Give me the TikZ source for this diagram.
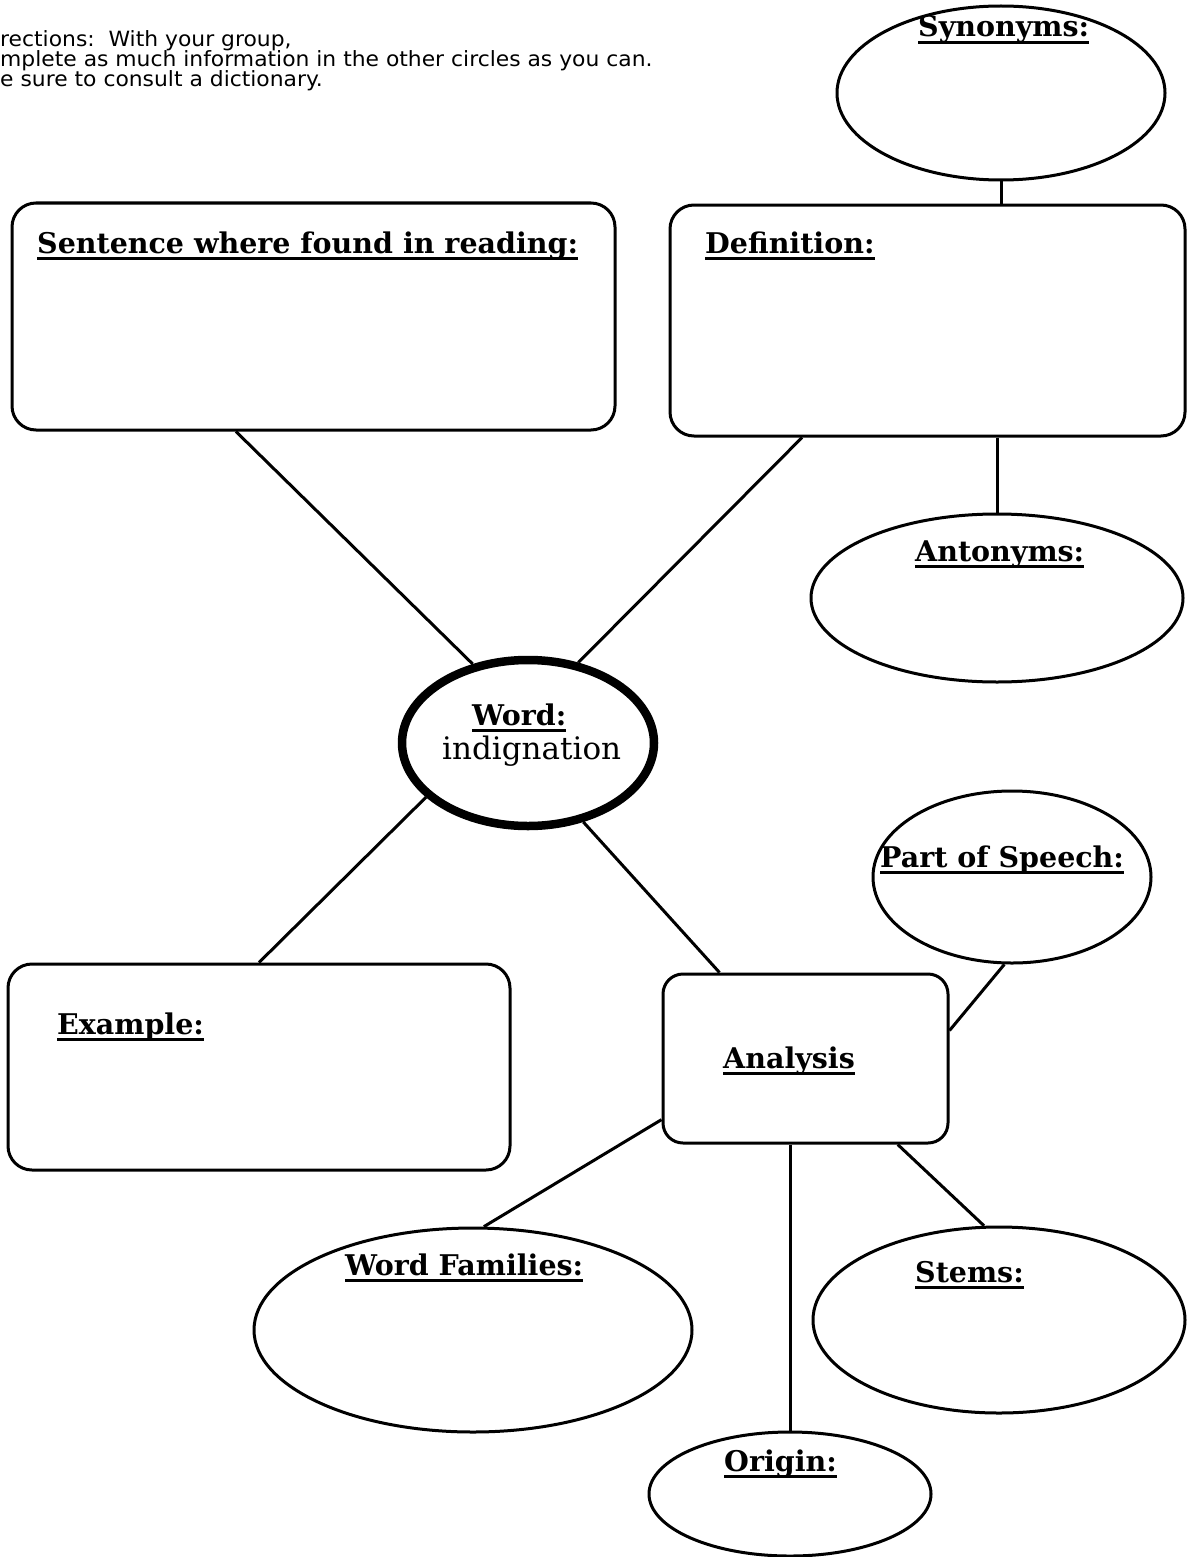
\documentclass[tikz,border=0pt]{standalone}
\usepackage{fontspec}
\usetikzlibrary{shapes.geometric}
\newfontfamily\dirfont[FakeStretch=1.04]{DejaVu Sans}
\newfontfamily\lblserif{DejaVu Serif}
\newcommand\lblfont{\lblserif\bfseries\fontsize{28.5}{32}\selectfont}
\newcommand\wordfont{\lblserif\fontsize{31}{35}\selectfont}
% underlined heading text
\newcommand\ulbl[1]{\setbox0=\hbox{#1}\rlap{\rule[-7pt]{\wd0}{2.8pt}}\box0}

\tikzset{
  panel/.style={draw, line width=3pt, rounded corners=24pt, inner sep=0pt},
  oval/.style={draw, ellipse, line width=3pt, inner sep=0pt},
  heading/.style={anchor=base west, inner sep=0pt, font=\lblfont},
  note/.style={anchor=base west, inner sep=0pt, font=\dirfont\fontsize{21}{23}\selectfont},
  link/.style={line width=3pt},
}

\begin{document}
\begin{tikzpicture}[x=1pt, y=-1pt]
  \useasboundingbox (0,0) rectangle (1186,1557);
  \fill[white] (0,0) rectangle (1186,1557);

  % instructions
  \node[note] (dir1) at (0,47) {rections:\ \ With your group,};
  \node[note] (dir2) at (0,67) {mplete as much information in the other circles as you can.};
  \node[note] (dir3) at (0,87) {e sure to consult a dictionary.};

  % shapes
  \node[panel, minimum width=603pt, minimum height=227pt] (sent) at (313.5,316.5) {};
  \node[panel, minimum width=515pt, minimum height=231pt] (defn) at (927.5,320.5) {};
  \node[panel, minimum width=502pt, minimum height=206pt] (ex) at (259,1067) {};
  \node[panel, rounded corners=20pt, minimum width=285pt, minimum height=169pt] (ana) at (805.5,1058.5) {};

  \node[draw, ellipse, line width=8.5pt, inner sep=0pt,
        minimum width=252pt, minimum height=166pt] (word) at (528,743) {};

  \node[oval, minimum width=328pt, minimum height=174pt] (syn) at (1001,93) {};
  \node[oval, minimum width=372pt, minimum height=168pt] (ant) at (997,598) {};
  \node[oval, minimum width=278pt, minimum height=172pt] (pos) at (1012,877) {};
  \node[oval, minimum width=438pt, minimum height=204pt] (wf) at (473,1330) {};
  \node[oval, minimum width=282pt, minimum height=124pt] (orig) at (790,1494) {};
  \node[oval, minimum width=372pt, minimum height=186pt] (stem) at (999,1320) {};

  % connectors
  \draw[link] (syn.south) -- (syn.south |- defn.north);
  \draw[link] (ant.north |- defn.south) -- (ant.north);
  \draw[link] (sent.236) -- (word.125);
  \draw[link] (defn.223) -- (word.58);
  \draw[link] (ex.north) -- (word.208);
  \draw[link] (word.305) -- (ana.135);
  \draw[link] (pos.265) -- (ana.11);
  \draw[link] (ana.203) -- (wf.84);
  \draw[link] (orig.north |- ana.south) -- (orig.north);
  \draw[link] (ana.317) -- (stem.99);

  % headings
  \node[heading] (sentL) at (37,253) {\ulbl{Sentence where found in reading:}};
  \node[heading] (defnL) at (705,253) {\ulbl{Definition:}};
  \node[heading] (synL) at (918,37) {\ulbl{Synonyms:}};
  \node[heading] (antL) at (915,561) {\ulbl{Antonyms:}};
  \node[heading] (wordL) at (472,725) {\ulbl{Word:}};
  \node[anchor=base west, inner sep=0pt, font=\wordfont] (wordT) at (442,759) {indignation};
  \node[heading] (posL) at (880,867) {\ulbl{Part of Speech:}};
  \node[heading] (exL) at (57,1034) {\ulbl{Example:}};
  \node[heading] (anaL) at (723,1068) {\ulbl{Analysis}};
  \node[heading] (wfL) at (345,1275) {\ulbl{Word Families:}};
  \node[heading] (stemL) at (915,1282) {\ulbl{Stems:}};
  \node[heading] (origL) at (724,1471) {\ulbl{Origin:}};
\end{tikzpicture}
\end{document}
